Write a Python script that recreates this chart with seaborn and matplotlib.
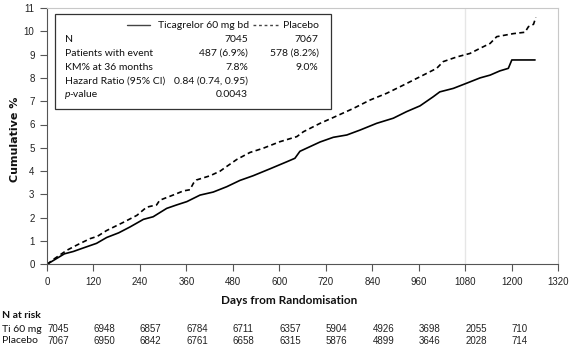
import matplotlib
matplotlib.use("Agg")
import matplotlib.pyplot as plt
import matplotlib.transforms as mtransforms
from matplotlib.patches import Rectangle
from matplotlib.lines import Line2D
import seaborn as sns
import pandas as pd

# ---- data ----
ti_days = [0, 15, 30, 45, 68, 90, 128, 154, 185, 214, 249, 274, 309, 335, 361, 395, 429, 464,
           498, 532, 576, 619, 640, 653, 679, 705, 739, 774, 808, 851, 894, 928, 963, 997,
           1014, 1049, 1083, 1118, 1144, 1169, 1191, 1200, 1260]
ti_vals = [0, 0.15, 0.3, 0.45, 0.55, 0.68, 0.9, 1.15, 1.35, 1.6, 1.93, 2.04, 2.4, 2.55, 2.69,
           2.97, 3.1, 3.33, 3.6, 3.8, 4.1, 4.4, 4.55, 4.85, 5.05, 5.25, 5.45, 5.55, 5.76, 6.05,
           6.27, 6.55, 6.8, 7.19, 7.4, 7.55, 7.77, 8.0, 8.12, 8.3, 8.41, 8.77, 8.77]
pl_days = [0, 20, 51, 80, 111, 130, 154, 197, 232, 257, 283, 291, 330, 352, 369, 378, 386, 421,
           447, 464, 490, 524, 558, 601, 645, 662, 705, 739, 791, 834, 877, 920, 963, 1006,
           1023, 1058, 1092, 1118, 1144, 1161, 1204, 1234, 1243, 1256, 1262]
pl_vals = [0, 0.25, 0.6, 0.85, 1.1, 1.2, 1.45, 1.8, 2.1, 2.45, 2.55, 2.75, 3.0, 3.15, 3.2, 3.48,
           3.62, 3.8, 4.0, 4.2, 4.5, 4.8, 4.98, 5.26, 5.48, 5.69, 6.05, 6.3, 6.69, 7.05, 7.34,
           7.69, 8.05, 8.41, 8.7, 8.9, 9.05, 9.27, 9.48, 9.77, 9.9, 9.96, 10.2, 10.3, 10.6]

series_names = ["Ticagrelor 60 mg bd", "Placebo"]
risk_days = [0, 120, 240, 360, 480, 600, 720, 840, 960, 1080, 1200]
risk_ti = [7045, 6948, 6857, 6784, 6711, 6357, 5904, 4926, 3698, 2055, 710]
risk_pl = [7067, 6950, 6842, 6761, 6658, 6315, 5876, 4899, 3646, 2028, 714]
risk_labels = ["Ti 60 mg", "Placebo"]

table_rows = ["N", "Patients with event", "KM% at 36 months", "Hazard Ratio (95% CI)", "p-value"]
table_ti = ["7045", "487 (6.9%)", "7.8%", "0.84 (0.74, 0.95)", "0.0043"]
table_pl = ["7067", "578 (8.2%)", "9.0%", "", ""]

# ---- style ----
sns.set_style("ticks")
plt.rcParams["font.family"] = ["Liberation Sans", "DejaVu Sans"]

W, H = 576, 349
fig = plt.figure(figsize=(W / 100, H / 100), dpi=100)
L, R, T, B = 47, 558.3, 8, 264.3
ax = fig.add_axes([L / W, 1 - B / H, (R - L) / W, (B - T) / H])

df = pd.concat([
    pd.DataFrame({"day": ti_days, "val": ti_vals, "grp": series_names[0]}),
    pd.DataFrame({"day": pl_days, "val": pl_vals, "grp": series_names[1]}),
])
sns.lineplot(data=df[df.grp == series_names[0]], x="day", y="val", ax=ax, color="black",
             lw=1.2, estimator=None, sort=True, legend=False)
sns.lineplot(data=df[df.grp == series_names[1]], x="day", y="val", ax=ax, color="black",
             lw=1.2, estimator=None, sort=True, legend=False, dashes=False)
ax.lines[1].set_linestyle((0, (3, 2)))

ax.set_xlim(0, 1320)
ax.set_ylim(0, 11)
ax.set_xticks(range(0, 1321, 120))
ax.set_yticks(range(0, 12))
ax.tick_params(axis="both", labelsize=7, length=5, width=0.8, color="#555555", pad=4,
               labelcolor="#222222")
ax.axvline(1080, color="#e6e6e6", lw=1, zorder=0)
for s in ["top", "right"]:
    ax.spines[s].set_color("#c8c8c8")
    ax.spines[s].set_linewidth(0.8)
for s in ["left", "bottom"]:
    ax.spines[s].set_color("#555555")
    ax.spines[s].set_linewidth(0.8)
ax.set_xlabel("")
ax.set_ylabel("")


def fx(x):
    return x / W


def fy(y):
    return 1 - y / H


fig.text(fx(15), fy(139), "Cumulative %", rotation=90, ha="center", va="center",
         fontsize=8, fontweight="bold", family="DejaVu Sans", color="#111111")
fig.text(fx(289.5), fy(300), "Days from Randomisation", ha="center", va="center",
         fontsize=8.5, fontweight="bold", family="Lato", color="#111111")

# legend / stats box
fig.add_artist(Rectangle((fx(55), fy(109.3)), fx(331) - fx(55), fy(14) - fy(109.3),
                         transform=fig.transFigure, fill=True, facecolor="white",
                         edgecolor="#333333", lw=0.9, zorder=5))
fs = 7.5
fam = "Lato"
tc = "#111111"
hy = 25
fig.add_artist(Line2D([fx(127), fx(150)], [fy(hy), fy(hy)], transform=fig.transFigure,
                      color="#444444", lw=1.0, zorder=6))
fig.text(fx(249), fy(hy), series_names[0], ha="right", va="center", fontsize=fs,
         family=fam, zorder=6, color=tc)
fig.add_artist(Line2D([fx(253), fx(280)], [fy(hy), fy(hy)], transform=fig.transFigure,
                      color="#444444", lw=1.0, ls=(0, (2, 2)), zorder=6))
fig.text(fx(318.5), fy(hy), series_names[1], ha="right", va="center", fontsize=fs,
         family=fam, zorder=6, color=tc)
row_y = [39.5, 53.3, 67, 80.7, 94.3]
renderer = fig.canvas.get_renderer()
for i, (lab, a, b) in enumerate(zip(table_rows, table_ti, table_pl)):
    y = fy(row_y[i])
    if lab == "p-value":
        tp = fig.text(fx(65), y, lab[0], ha="left", va="center", fontsize=fs, family=fam,
                      style="italic", zorder=6, color=tc)
        bb = tp.get_window_extent(renderer)
        fig.text((bb.x1 - 1.5) / W, y, lab[1:], ha="left", va="center", fontsize=fs,
                 family=fam, zorder=6, color=tc)
    else:
        fig.text(fx(65), y, lab, ha="left", va="center", fontsize=fs, family=fam, zorder=6,
                 color=tc)
    fig.text(fx(248), y, a, ha="right", va="center", fontsize=fs, family=fam, zorder=6,
             color=tc)
    if b:
        fig.text(fx(318.5), y, b, ha="right", va="center", fontsize=fs, family=fam, zorder=6,
                 color=tc)

# number at risk table
fig.text(fx(2), fy(315.5), "N at risk", ha="left", va="center", fontsize=7.5,
         fontweight="bold", family=fam, color=tc)
blend = mtransforms.blended_transform_factory(ax.transData, fig.transFigure)
for lab, vals, y in zip(risk_labels, [risk_ti, risk_pl], [329, 340.7]):
    fig.text(fx(2), fy(y), lab, ha="left", va="center", fontsize=7.5, family=fam, color=tc)
    for d, v in zip(risk_days, vals):
        ax.text(d, fy(y), str(v), transform=blend, ha="left", va="center", fontsize=7,
                color="#222222", clip_on=False)

fig.savefig("out.png", dpi=100)
